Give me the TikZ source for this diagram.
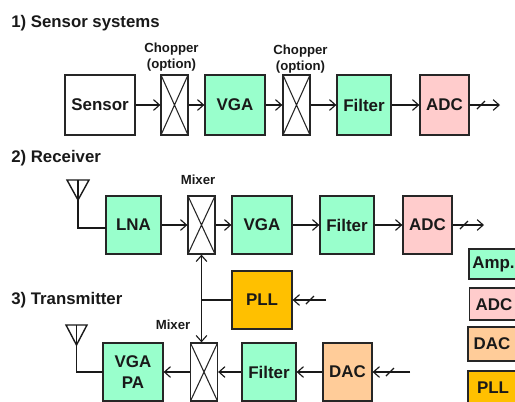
\documentclass[tikz,border=0pt]{standalone}
\usepackage{fontspec}
\setmainfont{Liberation Sans}
\usetikzlibrary{arrows.meta}
\definecolor{ampgreen}{RGB}{153,255,204}
\definecolor{adcpink}{RGB}{255,204,204}
\definecolor{dacpeach}{RGB}{255,204,153}
\definecolor{pllorange}{RGB}{255,192,0}
\tikzset{
  barb/.tip={Straight Barb[length=4.5pt,width=8pt,line width=0.85pt]},
  wire/.style={line width=1.05pt,draw=black!90},
  sig/.style={wire,-barb},
  sigboth/.style={wire,barb-barb},
  label/.style={inner sep=0pt,font=\fontsize{12.7}{15}\selectfont\bfseries,align=center,text=black!90},
  block/.style={label,draw=black!85,line width=0.95pt},
  mixbox/.style={block,fill=white,minimum width=20.25pt,minimum height=45pt,
    path picture={\draw[line width=0.8pt,black!85] (path picture bounding box.north west) -- (path picture bounding box.south east)
      (path picture bounding box.north east) -- (path picture bounding box.south west);}},
  head/.style={anchor=west,inner sep=0pt,font=\fontsize{12.6}{14}\selectfont\bfseries,text=black!90},
  note/.style={inner sep=0pt,align=center,font=\fontsize{9.9}{12}\selectfont\bfseries,text=black!90},
}
\begin{document}
\begin{tikzpicture}[x=0.75pt,y=0.75pt,yscale=-1,xscale=1]
\clip (0,0) rectangle (515,401);

% Section titles
\node[head] (titleA) at (11,23) {1) Sensor systems};
\node[head] (titleB) at (11,158) {2) Receiver};
\node[head] (titleC) at (11,300) {3) Transmitter};

% Sensor chain
\node[block,fill=white,minimum width=52.5pt,minimum height=45pt] (sensor) at (100,105) {Sensor};
\node[mixbox] (chopA) at (174.5,105) {};
\node[block,fill=ampgreen,minimum width=45pt,minimum height=45pt] (vgaA) at (235,105) {VGA};
\node[mixbox] (chopB) at (296.5,105) {};
\node[block,fill=ampgreen,minimum width=40.5pt,minimum height=45pt] (filterA) at (364,105) {Filter};
\node[block,fill=adcpink,minimum width=36.75pt,minimum height=45pt] (adcA) at (444.5,105) {ADC};
\coordinate (outA) at (500,105);
\node[note] (chopTextA) at (171.5,57) {Chopper\\(option)};
\node[note] (chopTextB) at (300.5,59) {Chopper\\(option)};
\draw[sig] (sensor) -- (chopA);
\draw[sig] (chopA) -- (vgaA);
\draw[sig] (vgaA) -- (chopB);
\draw[sig] (chopB) -- (filterA);
\draw[sig] (filterA) -- (adcA);
\draw[sig] (adcA) -- (outA);
\draw[wire,shift={(481,105)}] (-4,4) -- (4,-4);

% Receiver chain
\node[block,fill=ampgreen,minimum width=41.25pt,minimum height=43.5pt] (lna) at (133.5,225) {LNA};
\node[mixbox,minimum height=43.5pt] (mixRx) at (201.5,225) {};
\node[block,fill=ampgreen,minimum width=45pt,minimum height=43.5pt] (vgaB) at (262,225) {VGA};
\node[block,fill=ampgreen,minimum width=40.5pt,minimum height=43.5pt] (filterB) at (347,225) {Filter};
\node[block,fill=adcpink,minimum width=36.75pt,minimum height=43.5pt] (adcB) at (427.5,225) {ADC};
\coordinate (outB) at (484,225);
\node[note] (mixTextRx) at (198,180) {Mixer};
\draw[sig] (lna) -- (mixRx);
\draw[sig] (mixRx) -- (vgaB);
\draw[sig] (vgaB) -- (filterB);
\draw[sig] (filterB) -- (adcB);
\draw[sig] (adcB) -- (outB);
\draw[wire,shift={(464,225)}] (-4,4) -- (4,-4);
% antenna
\coordinate (antRx) at (78,180);
\coordinate (antRxIn) at (106,228);
\draw[wire] (67,180) -- (89,180) -- (78,200) -- cycle;
\draw[wire] (antRx) |- (antRxIn);

% PLL
\node[block,fill=pllorange,minimum width=45pt,minimum height=43.5pt] (pll) at (262,300) {PLL};
\coordinate (pllIn) at (326,300);
\coordinate (pllTap) at (201.5,300);
\draw[sig] (pllIn) -- (pll);
\draw[wire,shift={(310,300)}] (-4,4) -- (4,-4);
\draw[wire] (pll) -- (pllTap);

% Transmitter chain
\node[block,fill=ampgreen,minimum width=45pt,minimum height=43.5pt] (pa) at (133,372) {VGA\\[1pt]PA};
\node[mixbox,minimum height=43.5pt] (mixTx) at (204,372) {};
\node[block,fill=ampgreen,minimum width=40.5pt,minimum height=43.5pt] (filterC) at (269,372) {Filter};
\node[block,fill=dacpeach,minimum width=36.75pt,minimum height=43.5pt] (dac) at (347.5,372) {DAC};
\coordinate (inC) at (410,372);
\node[note] (mixTextTx) at (173,325) {Mixer};
\draw[sig] (inC) -- (dac);
\draw[sig] (dac) -- (filterC);
\draw[sig] (filterC) -- (mixTx);
\draw[sig] (mixTx) -- (pa);
\draw[wire,shift={(390,372)}] (-4,4) -- (4,-4);
% antenna
\coordinate (antTx) at (76.5,325);
\coordinate (antTxIn) at (103,372);
\draw[wire] (66,325) -- (87,325) -- (76.5,345) -- cycle;
\draw[wire] (antTx) |- (antTxIn);

% LO feed
\draw[sigboth] (mixRx.south) -- (mixTx.north -| mixRx.south);

% Legend
\node[block,fill=ampgreen,minimum width=45pt,minimum height=22.5pt] (keyAmp) at (499,264) {};
\node[block,fill=adcpink,minimum width=45pt,minimum height=24pt] (keyAdc) at (499.5,304) {};
\node[block,fill=dacpeach,minimum width=45pt,minimum height=25.5pt] (keyDac) at (498,344) {};
\node[block,fill=pllorange,minimum width=45pt,minimum height=30pt] (keyPll) at (498,391) {};
\node[label] (keyAmpText) at (493.5,264) {Amp.};
\node[label] (keyAdcText) at (494,305) {ADC};
\node[label] (keyDacText) at (492,344) {DAC};
\node[label] (keyPllText) at (493,388) {PLL};

\end{tikzpicture}
\end{document}
